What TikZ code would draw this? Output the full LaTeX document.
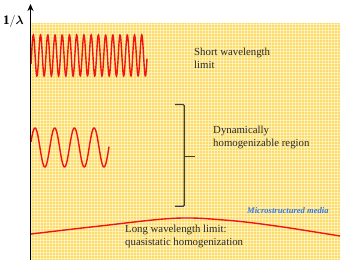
\documentclass[tikz,border=0pt]{standalone}
\usepackage{fontspec}
\setmainfont{Liberation Serif}
\usepackage{bm}
\usetikzlibrary{arrows.meta}
\definecolor{ging}{RGB}{252,220,100}
\definecolor{txt}{RGB}{40,40,40}
\definecolor{bluetxt}{RGB}{50,120,235}
\definecolor{wave}{RGB}{240,20,20}
\tikzset{
  lbl/.style={anchor=base west, inner sep=0pt, text=txt, align=left, font=\fontsize{10.8}{12.5}\selectfont},
  wavy/.style={draw=wave, line width=1.4pt},
  bracket/.style={draw=txt!90, line width=1.2pt, rounded corners=1.2pt},
}
\begin{document}
\begin{tikzpicture}[x=1pt,y=-1pt]
\useasboundingbox (0,0) rectangle (348,267);
% gingham background
\fill[ging] (30.5,23.5) rectangle (340,260);
\begin{scope}
\clip (30.5,23.5) rectangle (340,260);
\foreach \i in {0,...,104} {\fill[white,opacity=0.5] (31+3*\i,23.5) rectangle (32.1+3*\i,260);}
\foreach \j in {0,...,79} {\fill[white,opacity=0.5] (30.5,24+3*\j) rectangle (340,25.1+3*\j);}
\end{scope}
% waves
\draw[wavy,domain=31:147,samples=400,smooth] plot (\x,{55.5-20.5*sin((\x-31.5)/7.23*360)});
\draw[wavy,domain=31:109,samples=200,smooth] plot (\x,{147.5-19.5*cos((\x-35)/19.7*360)});
\draw[wavy] plot[smooth,tension=0.6] coordinates {(31,234) (100,226) (174,218.3) (224,220) (274,225.7) (340,236)};
% axis
\coordinate (ax0) at (30.5,260);
\coordinate (ax1) at (30.5,4);
\draw[line width=1.5pt,-{Stealth[length=7pt,width=6pt]}] (ax0) -- (ax1);
\node[anchor=base west,inner sep=0pt] (lam) at (3,24.5) {\fontsize{13}{13}\selectfont$\mathbf{1/}\bm{\lambda}$};
% bracket
\draw[bracket] (175,104.5) -- (184.3,104.5) -- (184.3,206.3) -- (175,206.3);
\draw[bracket] (184.3,156.3) -- (195,156.3);
% labels (base anchor = baseline of last line)
\node[lbl] (short) at (194,68.5) {Short wavelength\\limit};
\node[lbl] (dyn) at (213,146.3) {Dynamically\\homogenizable region};
\node[lbl] (long) at (125,245) {Long wavelength limit:\\quasistatic homogenization};
\node[anchor=base west,inner sep=0pt,text=bluetxt,font=\fontsize{8.6}{10}\selectfont\bfseries\itshape] (micro) at (247,213) {Microstructured media};
\end{tikzpicture}
\end{document}
